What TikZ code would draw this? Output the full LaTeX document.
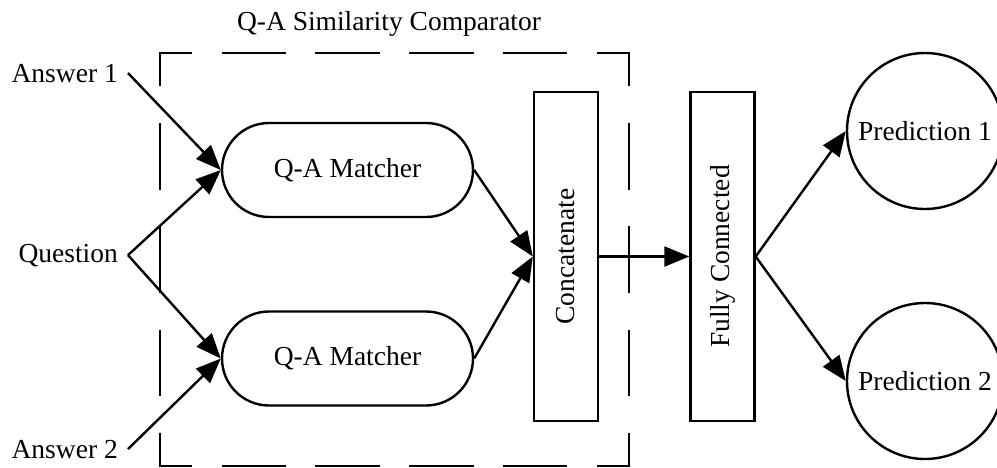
\documentclass[tikz,border=0pt]{standalone}
\usepackage{fontspec}
\setmainfont{Liberation Serif}
\usetikzlibrary{arrows.meta}
\begin{document}
\begin{tikzpicture}[x=1pt,y=-1pt,
  every node/.style={font=\fontsize{27.5}{33}\selectfont},
  label/.style={inner sep=10pt},
  conn/.style={line width=2.4pt,-{Triangle[length=25pt,width=20pt]}},
  matcher/.style={draw,line width=2.4pt,rounded corners=47pt,minimum width=251pt,minimum height=94pt,inner sep=0pt},
  tallbox/.style={draw,line width=2.4pt,minimum width=64pt,minimum height=329pt,inner sep=0pt},
  pred/.style={draw,circle,line width=2.4pt,minimum size=156pt,inner sep=0pt},
  frame/.style={line width=2.5pt,line cap=rect}]
\useasboundingbox (0,0) rectangle (997,467);
% dashed frame
\coordinate (f1) at (160,53);
\coordinate (f2) at (629,53);
\coordinate (f3) at (629,466);
\coordinate (f4) at (160,466);
\draw[frame,dash pattern=on 62pt off 31.8pt,dash phase=31pt] (f1) -- (f2);
\draw[frame,dash pattern=on 62pt off 31.8pt,dash phase=31pt] (f4) -- (f3);
\draw[frame,dash pattern=on 64pt off 39.25pt,dash phase=32pt] (f1) -- (f4);
\draw[frame,dash pattern=on 64pt off 39.25pt,dash phase=32pt] (f2) -- (f3);
% nodes
\node[anchor=base] (title) at (389,30) {Q-A Similarity Comparator};
\node[label,anchor=base east] (a1) at (128,82) {Answer 1};
\node[label,anchor=base east] (q) at (128,262) {Question};
\node[label,anchor=base east] (a2) at (128,458) {Answer 2};
\node[matcher] (m1) at (347.5,170) {Q-A Matcher};
\node[matcher] (m2) at (347.5,358.5) {Q-A Matcher};
\node[tallbox] (cc) at (566,256.5) {\rotatebox{90}{Concatenate}};
\node[tallbox] (fc) at (722.5,256.5) {\rotatebox{90}{Fully Connected}};
\node[pred] (p1) at (925,131) {Prediction 1};
\node[pred] (p2) at (925,381) {Prediction 2};
% connectors
\draw[conn] (a1.east) -- (m1.west);
\draw[conn] (q.east) -- (m1.west);
\draw[conn] (q.east) -- (m2.west);
\draw[conn] (a2.east) -- (m2.west);
\draw[conn] (m1.east) -- (cc.west);
\draw[conn] (m2.east) -- (cc.west);
\draw[conn] (cc.east) -- (fc.west);
\draw[conn] (fc.east) -- (p1.west);
\draw[conn] (fc.east) -- (p2.west);
\end{tikzpicture}
\end{document}
